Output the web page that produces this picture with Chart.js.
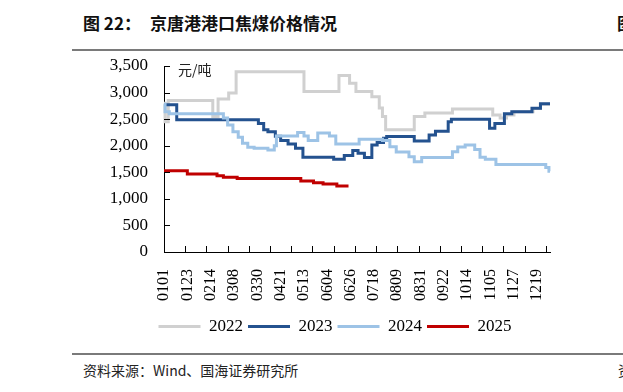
<!DOCTYPE html>
<html>
<head>
<meta charset="utf-8">
<script src="https://cdn.jsdelivr.net/npm/chart.js@4/dist/chart.umd.min.js"></script>
<style>
  html, body { margin: 0; padding: 0; background: #fff; }
  body { width: 623px; height: 392px; position: relative; overflow: hidden; font-family: "Noto Sans CJK SC", sans-serif; color: #111; }
  .title { position: absolute; top: 10px; font-size: 17px; font-weight: bold; white-space: nowrap; }
  .rule { position: absolute; left: 72px; right: 0; height: 2px; background: #7a7a7a; }
  .unit { position: absolute; left: 178px; top: 59px; font-size: 14px; color: #222; }
  .source { position: absolute; left: 83px; top: 360px; font-size: 14px; color: #222; white-space: nowrap; }
  #wrap { position: absolute; left: 0; top: 0; width: 623px; height: 392px; }
</style>
</head>
<body>
<div class="title" style="left:83px">图 22：</div>
<div class="title" style="left:150px">京唐港港口焦煤价格情况</div>
<div class="title" style="left:617px">图</div>
<div class="rule" style="top:49px"></div>
<div class="rule" style="top:353px"></div>
<div class="source">资料来源：Wind、国海证券研究所</div>
<div class="source" style="left:618px">资</div>
<div id="wrap"><canvas id="chart" width="623" height="392"></canvas></div>
<div class="unit">元/吨</div>
<script>
// categories: one per calendar day, MMDD
const monthDays = [31, 28, 31, 30, 31, 30, 31, 31, 30, 31, 30, 31];
const dayLabels = [];
monthDays.forEach((n, m) => {
  for (let d = 1; d <= n; d++) dayLabels.push(String(m + 1).padStart(2, '0') + String(d).padStart(2, '0'));
});

// price change dates and levels (元/吨), held until the next change
const dates2022 = ['0101','0102','0105','0216','0221','0303','0310','0513','0615','0625','0701','0716','0723','0726','0729','0825','0904','0930','1107','1114','1120','1127','1215','1222','1231'];
const prices2022 = [2800, 2450, 2850, 2550, 2880, 2990, 3390, 3020, 3320, 3175, 3020, 2920, 2710, 2550, 2300, 2550, 2615, 2690, 2580, 2520, 2580, 2640, 2700, 2780, 2780];

const dates2023 = ['0101','0113','0331','0405','0409','0416','0421','0428','0505','0512','0610','0620','0628','0703','0709','0716','0721','0727','0730','0825','0908','0914','0926','0929','1104','1109','1118','1125','1214','1222','1231'];
const prices2023 = [2770, 2490, 2420, 2300, 2265, 2180, 2100, 2030, 1950, 1785, 1745, 1815, 1910, 1860, 1780, 2014, 2060, 2140, 2175, 2090, 2200, 2270, 2450, 2497, 2330, 2420, 2600, 2640, 2705, 2790, 2790];

const dates2024 = ['0101','0102','0106','0226','0302','0307','0312','0316','0321','0327','0409','0415','0417','0507','0513','0517','0526','0606','0612','0704','0726','0802','0808','0820','0825','0901','0930','1005','1012','1021','1026','1031','1110','1227','1230','1231'];
const prices2024 = [2780, 2640, 2600, 2520, 2390, 2265, 2160, 2046, 1970, 1950, 1920, 2000, 2183, 2250, 2183, 2100, 2240, 2183, 2030, 2120, 2100, 1980, 1880, 1794, 1700, 1780, 1888, 1975, 2014, 1930, 1782, 1745, 1645, 1590, 1520, 1520];

const dates2025 = ['0101','0123','0220','0226','0311','0510','0522','0531','0613','0624'];
const prices2025 = [1530, 1470, 1435, 1405, 1385, 1336, 1305, 1280, 1242, 1242];

const yTicks = [0, 500, 1000, 1500, 2000, 2500, 3000, 3500];

const serif = "'Liberation Serif', 'Times New Roman', serif";
const points = (dates, prices) => dates.map((d, i) => ({ x: d, y: prices[i] }));

// tick marks drawn on the inside of the axes, x marks every 20 days
const innerTicks = {
  id: 'innerTicks',
  afterDraw(chart) {
    const { ctx, chartArea, scales: { x, y } } = chart;
    ctx.save();
    ctx.strokeStyle = '#000';
    ctx.lineWidth = 1;
    ctx.beginPath();
    yTicks.forEach(v => {
      const py = Math.round(y.getPixelForValue(v)) + 0.5;
      ctx.moveTo(chartArea.left, py);
      ctx.lineTo(chartArea.left + 6, py);
    });
    for (let i = 20; i < dayLabels.length; i += 20) {
      const px = Math.round(x.getPixelForValue(i)) + 0.5;
      ctx.moveTo(px, chartArea.bottom);
      ctx.lineTo(px, chartArea.bottom - 6);
    }
    ctx.stroke();
    ctx.restore();
  }
};

// centre the legend under the plot rather than under the whole canvas
const legendShift = {
  id: 'legendShift',
  afterLayout(chart) { chart.legend.left = 120; }
};

new Chart(document.getElementById('chart'), {
  type: 'line',
  data: {
    labels: dayLabels,
    datasets: [
      { label: '2022', data: points(dates2022, prices2022), borderColor: '#d0d0d0', backgroundColor: '#d0d0d0', borderWidth: 3, order: 4 },
      { label: '2023', data: points(dates2023, prices2023), borderColor: '#24528f', backgroundColor: '#24528f', borderWidth: 3, order: 3 },
      { label: '2024', data: points(dates2024, prices2024), borderColor: '#9dc3e6', backgroundColor: '#9dc3e6', borderWidth: 3, order: 2 },
      { label: '2025', data: points(dates2025, prices2025), borderColor: '#c00000', backgroundColor: '#c00000', borderWidth: 3, order: 1 }
    ]
  },
  options: {
    responsive: false,
    animation: false,
    layout: { padding: { top: 66, right: 73, left: 0, bottom: 47 } },
    elements: {
      point: { radius: 0 },
      line: { stepped: true, fill: false }
    },
    plugins: {
      tooltip: { enabled: false },
      legend: {
        position: 'bottom',
        labels: {
          usePointStyle: true,
          pointStyle: 'line',
          pointStyleWidth: 42,
          padding: 5,
          color: '#000',
          font: { family: serif, size: 17 },
          sort: (a, b) => a.datasetIndex - b.datasetIndex
        }
      }
    },
    scales: {
      x: {
        type: 'category',
        offset: false,
        grid: { display: false },
        border: { display: true, color: '#000', width: 1 },
        ticks: { autoSkip: false, minRotation: 90, maxRotation: 90, padding: 9, color: '#000', font: { family: serif, size: 16 } },
        afterBuildTicks: s => { s.ticks = s.ticks.filter(t => t.value % 22 === 0); },
        afterFit: s => { s.height = 61; }
      },
      y: {
        min: 0,
        max: 3500,
        grid: { display: false },
        border: { display: true, color: '#000', width: 1 },
        ticks: { stepSize: 500, padding: 8, color: '#000', font: { family: serif, size: 17 },
          callback: v => v.toLocaleString('en-US') },
        afterFit: s => { s.width = 164; }
      }
    }
  },
  plugins: [innerTicks, legendShift]
});
</script>
</body>
</html>
